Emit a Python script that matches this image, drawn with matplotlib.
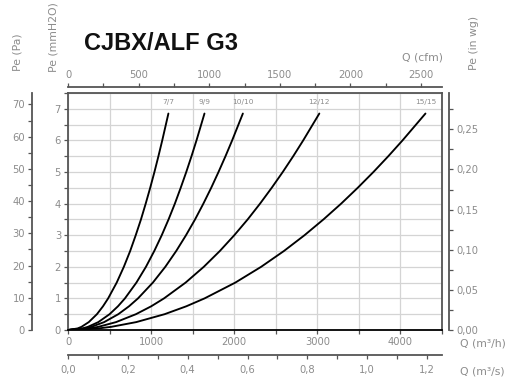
import numpy as np
import matplotlib
matplotlib.use("Agg")
import matplotlib.pyplot as plt
from matplotlib.ticker import MultipleLocator, FuncFormatter

# pression (mmH2O) commune a toutes les courbes
pe_mm = [0, 0.05, 0.1, 0.25, 0.5, 0.75, 1, 1.5, 2, 2.5, 3, 3.5, 4, 4.5, 5, 5.5, 6, 6.85]
# debit (m3/h) lu sur chaque courbe
q_77 = [0, 116, 162, 250, 348, 421, 483, 586, 672, 748, 815, 878, 935, 989, 1040, 1088, 1134, 1208]
q_99 = [0, 176, 240, 365, 500, 601, 685, 823, 938, 1038, 1128, 1210, 1286, 1356, 1423, 1486, 1546, 1642]
q_1010 = [0, 202, 281, 435, 605, 734, 842, 1021, 1171, 1302, 1420, 1529, 1629, 1723, 1811, 1895, 1975, 2104]
q_1212 = [0, 258, 365, 578, 817, 1001, 1155, 1415, 1634, 1827, 2001, 2162, 2311, 2451, 2584, 2710, 2830, 3024]
q_1515 = [0, 367, 520, 821, 1162, 1423, 1643, 2013, 2324, 2598, 2846, 3074, 3287, 3486, 3675, 3854, 4025, 4301]
curves = [("7/7", q_77), ("9/9", q_99), ("10/10", q_1010),
          ("12/12", q_1212), ("15/15", q_1515)]

GRAY = "#8c8c8c"
AXC = "#555555"
FS = 7.2

def comma(fmt):
    return FuncFormatter(lambda v, p: (fmt % v).replace(".", ","))

fig = plt.figure(figsize=(5.18, 3.85), dpi=100)
ax = fig.add_axes([68/518, 1-330/385, 374/518, 237/385])

for name, q in curves:
    ax.plot(q, pe_mm, color="black", lw=1.35, solid_capstyle="round")
    ax.text(q[-1], 7.22, name, fontsize=5.3, color=GRAY, ha="center", va="center")

ax.set_xlim(0, 4500)
ax.set_ylim(0, 7.5)
ax.xaxis.set_major_locator(MultipleLocator(1000))
ax.xaxis.set_minor_locator(MultipleLocator(500))
ax.yaxis.set_major_locator(MultipleLocator(1))
ax.yaxis.set_minor_locator(MultipleLocator(0.5))
ax.grid(True, which="both", color="#d4d4d4", lw=0.9)
ax.set_axisbelow(True)
ax.tick_params(which="both", direction="out", length=3, width=0.9, color=AXC,
               labelsize=FS, labelcolor=GRAY, pad=2)
for s in ["left", "top", "right"]:
    ax.spines[s].set_color(AXC)
    ax.spines[s].set_linewidth(1.3)
ax.spines["bottom"].set_color("black")
ax.spines["bottom"].set_linewidth(1.3)

def style_sec(sec, pad=2):
    for sp in sec.spines.values():
        sp.set_color(AXC)
        sp.set_linewidth(1.3)
    sec.tick_params(which="both", direction="out", length=3, width=0.9, color=AXC,
                    labelsize=FS, labelcolor=GRAY, pad=pad)

# Pe (Pa)
sec_pa = ax.secondary_yaxis(-36/374, functions=(lambda v: v*9.80665, lambda v: v/9.80665))
sec_pa.yaxis.set_major_locator(MultipleLocator(10))
sec_pa.yaxis.set_minor_locator(MultipleLocator(5))
style_sec(sec_pa)

# Pe (in wg)
sec_wg = ax.secondary_yaxis(1+7/374, functions=(lambda v: v/25.4, lambda v: v*25.4))
sec_wg.yaxis.set_major_locator(MultipleLocator(0.05))
sec_wg.yaxis.set_minor_locator(MultipleLocator(0.025))
sec_wg.yaxis.set_major_formatter(comma("%.2f"))
style_sec(sec_wg)

# Q (cfm)
sec_cfm = ax.secondary_xaxis(1+6/237, functions=(lambda v: v*0.5886, lambda v: v/0.5886))
sec_cfm.xaxis.set_major_locator(MultipleLocator(500))
sec_cfm.xaxis.set_minor_locator(MultipleLocator(250))
style_sec(sec_cfm)

# Q (m3/s)
sec_ms = ax.secondary_xaxis(-25/237, functions=(lambda v: v/3600, lambda v: v*3600))
sec_ms.xaxis.set_major_locator(MultipleLocator(0.2))
sec_ms.xaxis.set_minor_locator(MultipleLocator(0.1))
sec_ms.xaxis.set_major_formatter(comma("%.1f"))
style_sec(sec_ms, pad=4)

lab = dict(fontsize=7.8, color=GRAY, ha="center", va="center")
fig.text(18/518, 1-52/385, "Pe (Pa)", rotation=90, **lab)
fig.text(53/518, 1-37/385, "Pe (mmH2O)", rotation=90, **lab)
fig.text(474/518, 1-43/385, "Pe (in wg)", rotation=90, **lab)
fig.text(423/518, 1-57/385, "Q (cfm)", **lab)
fig.text(483/518, 1-344/385, "Q (m³/h)", **lab)
fig.text(482/518, 1-371/385, "Q (m³/s)", **lab)

fig.text(84/518, 1-44/385, "CJBX/ALF G3", fontsize=17, fontweight="bold",
         family="Liberation Sans", color="#111111", ha="left", va="center")

fig.savefig("out.png", dpi=100)
